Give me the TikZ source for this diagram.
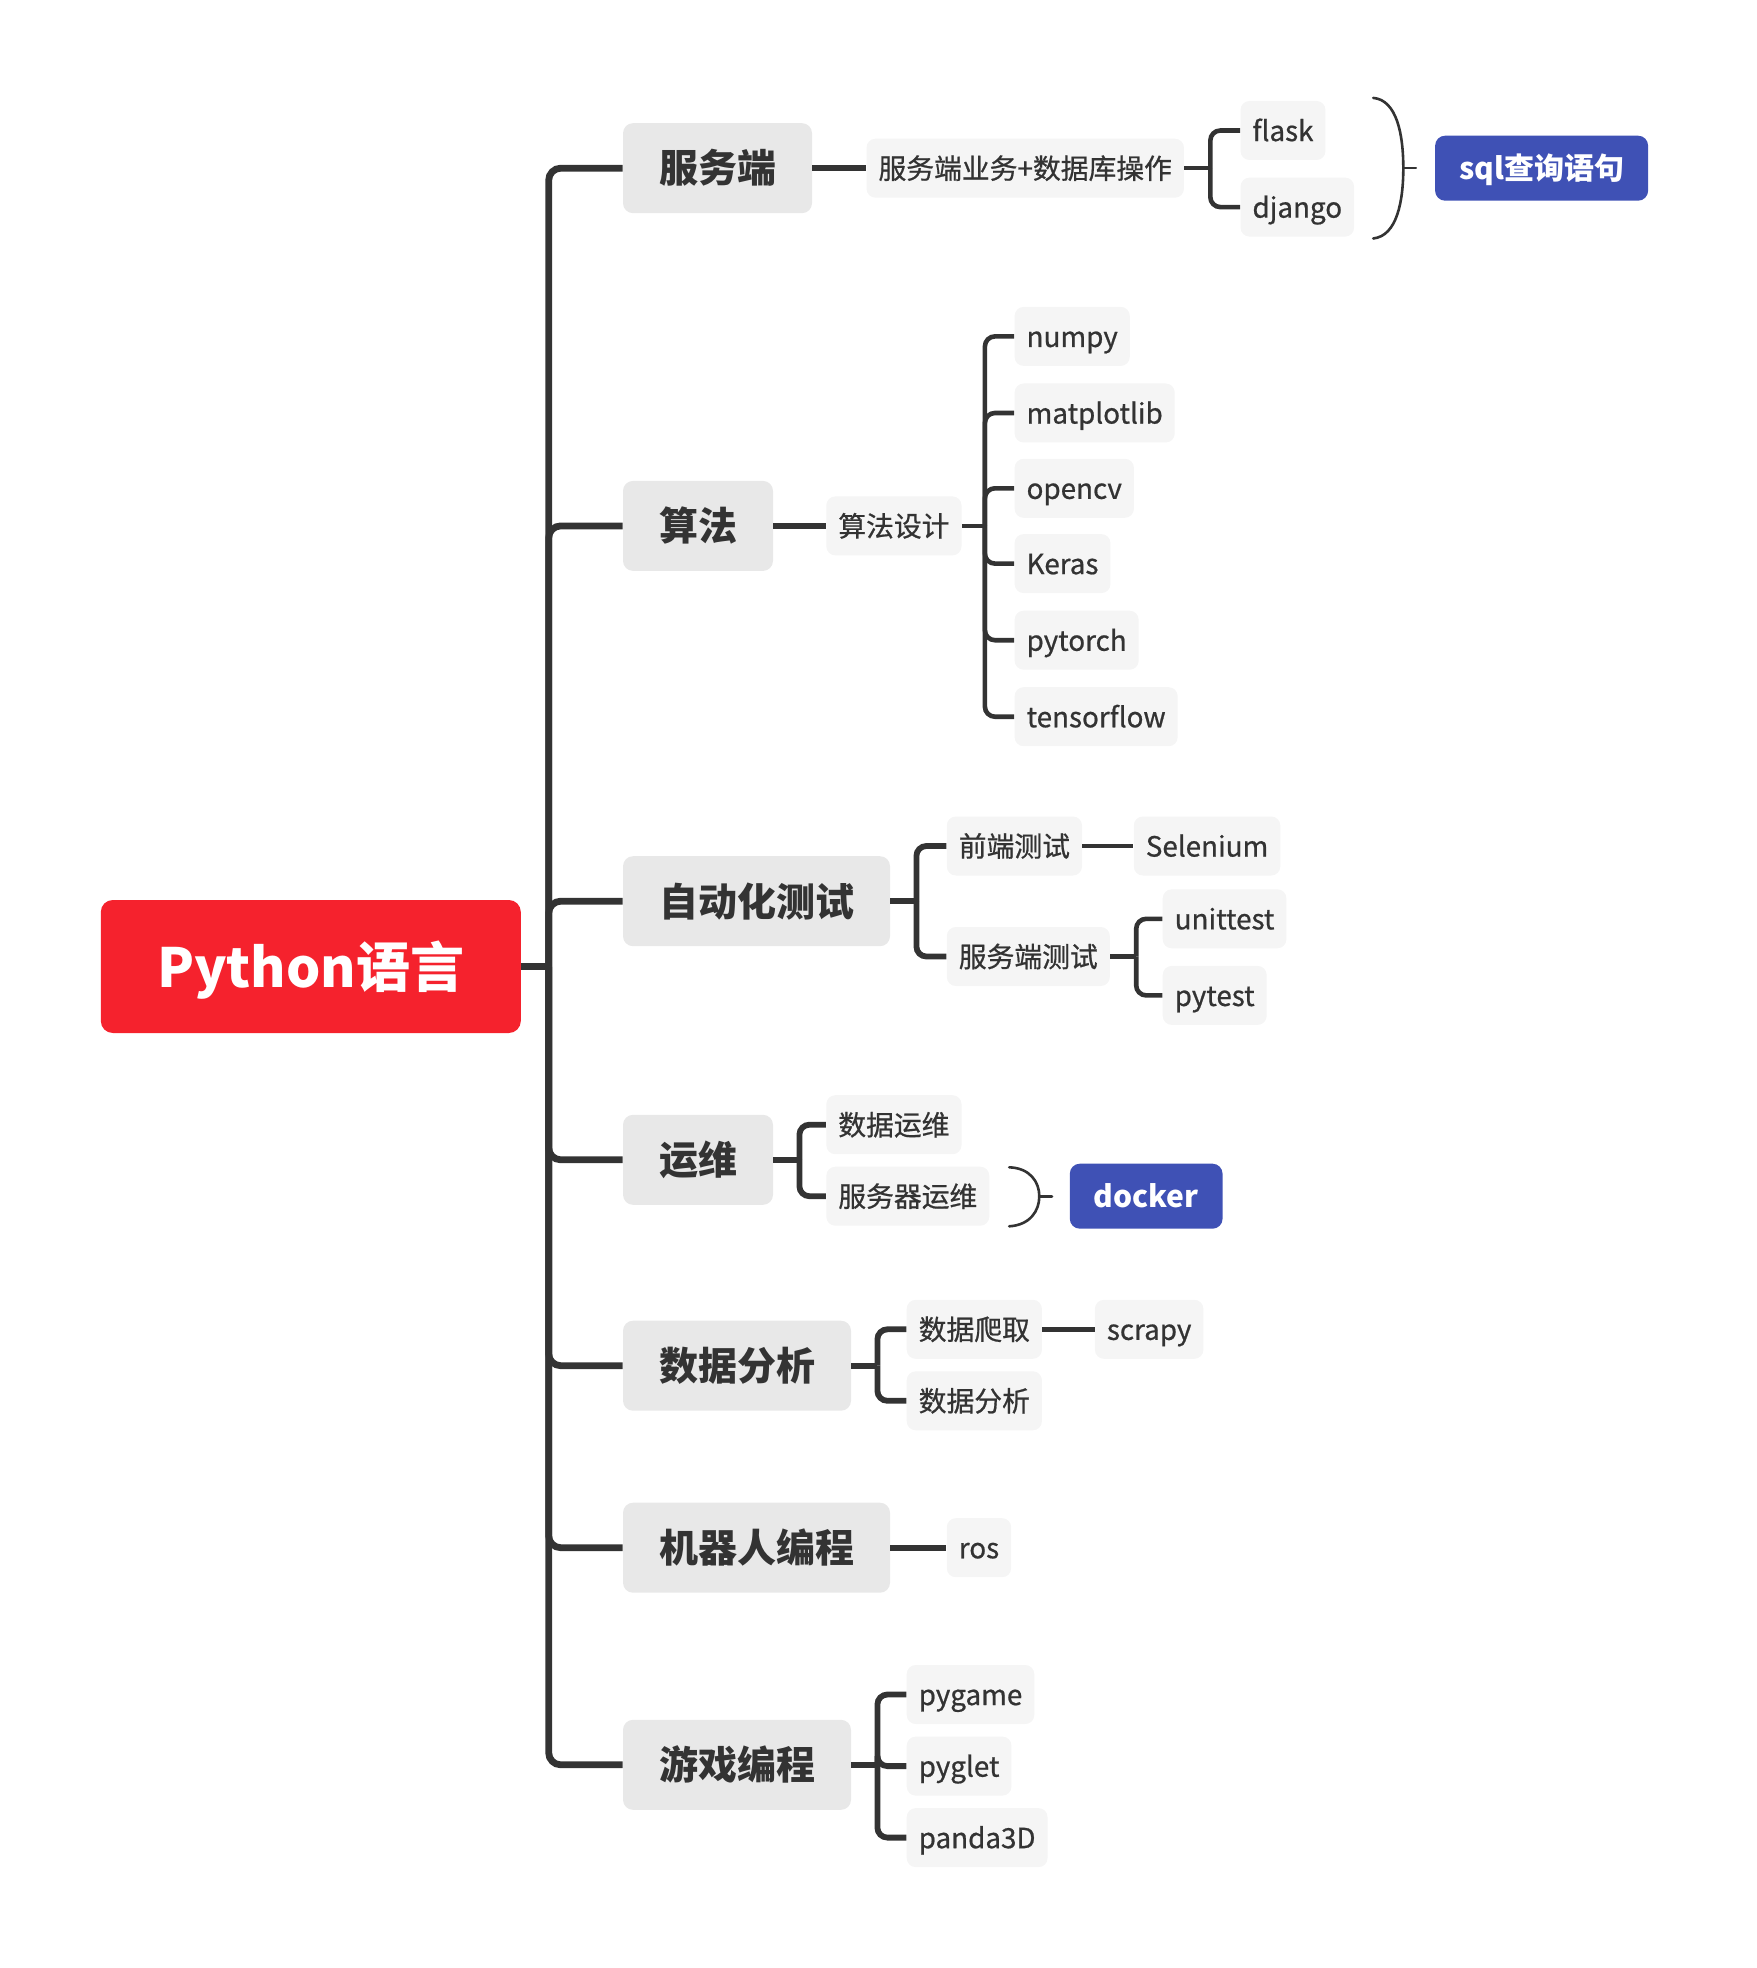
\documentclass[tikz,border=0pt]{standalone}
\usepackage{fontspec}
\setmainfont{Noto Sans CJK SC}
\newfontfamily\medfont[FakeBold=0.7]{Noto Sans CJK SC}
\usetikzlibrary{positioning}
\definecolor{rootred}{HTML}{F5222D}
\definecolor{topicgray}{HTML}{E8E8E8}
\definecolor{leafgray}{HTML}{F5F5F5}
\definecolor{inkgray}{HTML}{333333}
\definecolor{tagblue}{HTML}{3F51B5}

\begin{document}
\begin{tikzpicture}[x=0.5pt,y=-0.5pt,
	rootbox/.style={fill=rootred,text=white,rounded corners=6pt,minimum width=210pt,minimum height=66.5pt,anchor=west,text height=24.3pt,text depth=3.8pt,font=\fontsize{27}{32}\selectfont\bfseries},
	topic/.style={fill=topicgray,text=inkgray,rounded corners=5pt,minimum height=45pt,inner xsep=18pt,anchor=west,text height=17.5pt,text depth=2.7pt,font=\fontsize{19.5}{22}\selectfont\bfseries},
	leaf/.style={fill=leafgray,text=inkgray,rounded corners=4.5pt,minimum height=29.5pt,inner xsep=6pt,anchor=west,text height=12.5pt,text depth=1.95pt,font=\fontsize{13.9}{16}\selectfont\medfont},
	tag/.style={fill=tagblue,text=white,rounded corners=5pt,minimum height=32.5pt,inner xsep=12pt,anchor=west,text height=13.5pt,text depth=2.1pt,font=\fontsize{15}{18}\selectfont\bfseries},
	trunk/.style={draw=inkgray,line width=3.4pt,rounded corners=6pt},
	branch/.style={draw=inkgray,line width=2.9pt,rounded corners=5pt},
	twig/.style={draw=inkgray,line width=2.3pt,rounded corners=5pt},
	bracket/.style={draw=inkgray,line width=1.3pt,line cap=round},
]
	\useasboundingbox (0,0) rectangle (1756,1968);

	\node[rootbox](python) at (100.4,966.5){Python语言};

	\node[topic](server) at (622.6,168.2){服务端};
	\node[topic](algo) at (622.6,525.9){算法};
	\node[topic](autotest) at (622.6,901.2){自动化测试};
	\node[topic](ops) at (622.6,1159.8){运维};
	\node[topic](analysis) at (622.6,1365.7){数据分析};
	\node[topic](robot) at (622.6,1547.7){机器人编程};
	\node[topic](game) at (622.6,1764.8){游戏编程};

	% 服务端
	\node[leaf](svcdb) at (866.1,168.2){服务端业务+数据库操作};
	\node[leaf](flask) at (1240.1,130.5){flask};
	\node[leaf](django) at (1240.1,207.1){django};
	\node[tag](sql) at (1434.7,168.2){sql查询语句};

	% 算法
	\node[leaf](design) at (825.9,525.9){算法设计};
	\node[leaf](numpy) at (1014.2,336.4){numpy};
	\node[leaf](matplotlib) at (1014.2,413.0){matplotlib};
	\node[leaf](opencv) at (1014.2,488.3){opencv};
	\node[leaf](keras) at (1014.2,563.6){Keras};
	\node[leaf](pytorch) at (1014.2,640.2){pytorch};
	\node[leaf](tensorflow) at (1014.2,716.7){tensorflow};

	% 自动化测试
	\node[leaf](fronttest) at (946.4,846.0){前端测试};
	\node[leaf](selenium) at (1133.4,846.0){Selenium};
	\node[leaf](backtest) at (946.4,956.5){服务端测试};
	\node[leaf](unittest) at (1162.3,918.8){unittest};
	\node[leaf](pytest) at (1162.3,995.4){pytest};

	% 运维
	\node[leaf](dataops) at (825.9,1124.7){数据运维};
	\node[leaf](serverops) at (825.9,1196.2){服务器运维};
	\node[tag](docker) at (1069.4,1196.2){docker};

	% 数据分析
	\node[leaf](crawl) at (906.3,1329.3){数据爬取};
	\node[leaf](scrapy) at (1094.5,1329.3){scrapy};
	\node[leaf](dataan) at (906.3,1400.8){数据分析};

	% 机器人编程
	\node[leaf](ros) at (946.4,1547.7){ros};

	% 游戏编程
	\node[leaf](pygame) at (906.3,1694.5){pygame};
	\node[leaf](pyglet) at (906.3,1766.1){pyglet};
	\node[leaf](panda) at (906.3,1837.6){panda3D};

	% trunk
	\coordinate (hub) at ([xshift=13.75pt]python.east);
	\draw[trunk] (python.east) -- (hub);
	\foreach \t in {server,algo,autotest,ops,analysis,robot,game}
		\draw[trunk] (hub) |- (\t.west);

	% first level
	\draw[branch] (server.east) -- (svcdb.west);
	\draw[branch] (algo.east) -- (design.west);
	\draw[branch] (autotest.east) -- ++(13pt,0) coordinate (forkat);
	\draw[branch] (forkat) |- (fronttest.west);
	\draw[branch] (forkat) |- (backtest.west);
	\draw[branch] (ops.east) -- ++(13pt,0) coordinate (forkops);
	\draw[branch] (forkops) |- (dataops.west);
	\draw[branch] (forkops) |- (serverops.west);
	\draw[branch] (analysis.east) -- ++(13pt,0) coordinate (forkan);
	\draw[branch] (forkan) |- (crawl.west);
	\draw[branch] (forkan) |- (dataan.west);
	\draw[branch] (robot.east) -- (ros.west);
	\draw[branch] (game.east) -- ++(13pt,0) coordinate (forkgame);
	\foreach \t in {pygame,pyglet,panda}
		\draw[branch] (forkgame) |- (\t.west);

	% second level
	\draw[twig] (svcdb.east) -- ++(13pt,0) coordinate (forksvc);
	\draw[twig] (forksvc) |- (flask.west);
	\draw[twig] (forksvc) |- (django.west);
	\draw[twig] (design.east) -- ++(11.5pt,0) coordinate (forkdesign);
	\foreach \t in {numpy,matplotlib,opencv,keras,pytorch,tensorflow}
		\draw[twig] (forkdesign) |- (\t.west);
	\draw[twig] (fronttest.east) -- (selenium.west);
	\draw[twig] (backtest.east) -- ++(13pt,0) coordinate (forkback);
	\draw[twig] (forkback) |- (unittest.west);
	\draw[twig] (forkback) |- (pytest.west);
	\draw[twig] (crawl.east) -- (scrapy.west);

	% summaries
	\coordinate (sqltop) at (1373.2,97.9);
	\coordinate (sqlmid) at (1403.3,168.2);
	\coordinate (sqlbot) at (1373.2,238.5);
	\draw[bracket] (sqltop) .. controls (1397,100) and (1403.3,135) .. (sqlmid)
		.. controls (1403.3,201) and (1397,236) .. (sqlbot);
	\draw[bracket] (sqlmid) -- ([xshift=-9.4pt]sql.west);

	\coordinate (dockertop) at (1009.2,1167.3);
	\coordinate (dockermid) at (1039.3,1196.2);
	\coordinate (dockerbot) at (1009.2,1226.3);
	\draw[bracket] (dockertop) .. controls (1030,1168) and (1039.3,1182) .. (dockermid)
		.. controls (1039.3,1211) and (1030,1225) .. (dockerbot);
	\draw[bracket] (dockermid) -- ([xshift=-8.7pt]docker.west);
\end{tikzpicture}
\end{document}
